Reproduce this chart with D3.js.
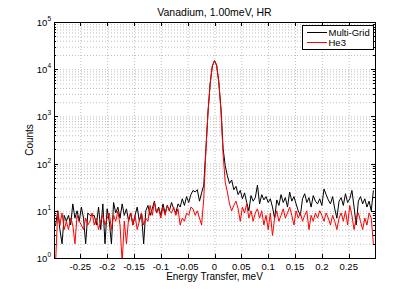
<!DOCTYPE html>
<html>
<head>
<meta charset="utf-8">
<script src="https://cdn.jsdelivr.net/npm/d3@7"></script>
<style>
  body { margin: 0; background: #fff; }
  text { font-family: "Liberation Sans", Arial, sans-serif; }
</style>
</head>
<body>
<div id="chart"></div>
<script>
// Vanadium, 1.00meV, HR

// energy bins, meV (bin centres every 0.004)
var energy = d3.range(149).map(i => +(-0.296 + 0.004 * i).toFixed(3));

var multiGrid = [
  5, 10, 4, 2, 8, 6, 8, 5, 14, 7,
  10, 6, 12, 7, 2, 9, 8, 8, 8, 5,
  12, 4, 14, 2, 11, 6, 2, 15, 9, 12,
  7, 14, 8, 11, 6, 9, 5, 8, 12, 6,
  9, 2, 10, 13, 8, 11, 16, 9, 12, 8,
  14, 9, 13, 10, 15, 11, 9, 14, 12, 18,
  13, 20, 15, 22, 27, 25, 28, 16, 24, 35,
  210, 1300, 5100, 11800, 15200, 12200, 5400, 1500, 210, 90,
  55, 38, 45, 28, 33, 22, 27, 18, 24, 15,
  10, 21, 16, 19, 35, 14, 22, 17, 20, 15,
  18, 12, 7, 17, 13, 22, 15, 19, 12, 25,
  16, 20, 14, 10, 8, 18, 23, 15, 19, 12,
  21, 16, 14, 18, 13, 29, 22, 17, 14, 20,
  11, 7, 16, 19, 13, 23, 15, 18, 27, 12,
  5, 16, 20, 14, 18, 12, 16, 10, 27
];

var he3 = [
  0.8, 10, 5, 9, 4, 6, 4, 7, 5, 2,
  8, 6, 5, 4, 7, 5, 6, 9, 5, 7,
  4, 6, 8, 5, 7, 9, 4, 8, 6, 10,
  5, 0.8, 6, 2, 7, 9, 5, 8, 4, 6,
  9, 5, 7, 6, 13, 8, 15, 9, 11, 7,
  12, 8, 13, 10, 9, 12, 8, 11, 5, 7,
  6, 9, 8, 12, 11, 8, 10, 7, 5, 18,
  190, 1250, 5000, 11600, 15000, 12000, 5200, 1350, 160, 40,
  25, 14, 10, 13, 16, 11, 6, 12, 9, 14,
  7, 10, 6, 9, 11, 7, 10, 5, 8, 4,
  9, 3, 7, 10, 6, 8, 11, 7, 9, 12,
  8, 5, 10, 7, 9, 6, 8, 10, 4, 8,
  6, 9, 7, 10, 8, 6, 9, 7, 5, 8,
  6, 4, 7, 9, 6, 10, 5, 13, 8, 4,
  7, 9, 6, 4, 7, 5, 9, 7, 2
];

var xTicks = [-0.25, -0.2, -0.15, -0.1, -0.05, 0, 0.05, 0.1, 0.15, 0.2, 0.25];
var xTickLabels = ["-0.25", "-0.2", "-0.15", "-0.1", "-0.05", "0", "0.05", "0.1", "0.15", "0.2", "0.25"];
var yExponents = [0, 1, 2, 3, 4, 5];
var seriesNames = ["Multi-Grid", "He3"];
var seriesColors = ["#000000", "#ff0000"];

var svgWidth = 415;
var svgHeight = 290;
var margin = { top: 22, right: 40, bottom: 32, left: 54 };
var width = svgWidth - margin.left - margin.right;
var height = svgHeight - margin.top - margin.bottom;

var svg = d3.select("#chart")
  .append("svg")
  .attr("width", svgWidth)
  .attr("height", svgHeight);

var chartGroup = svg.append("g")
  .attr("transform", `translate(${margin.left}, ${margin.top})`);

var x = d3.scaleLinear().domain([-0.299, 0.299]).range([0, width]);
var y = d3.scaleLog().domain([1, 1e5]).range([height, 0]);

// minor log values
var minorY = [];
yExponents.slice(0, -1).forEach(function(e) {
  for (var k = 2; k < 10; k++) minorY.push(k * Math.pow(10, e));
});
var majorY = yExponents.map(e => Math.pow(10, e));

// grid
var grid = chartGroup.append("g")
  .attr("stroke", "#b0b0b0")
  .attr("stroke-width", 0.8)
  .attr("stroke-dasharray", "1,2");

grid.selectAll(".gy")
  .data(minorY.concat(majorY))
  .enter()
  .append("line")
  .attr("x1", 0).attr("x2", width)
  .attr("y1", d => y(d) + 0.5).attr("y2", d => y(d) + 0.5);

grid.selectAll(".gx")
  .data(xTicks)
  .enter()
  .append("line")
  .attr("y1", 0).attr("y2", height)
  .attr("x1", d => x(d) + 0.5).attr("x2", d => x(d) + 0.5);

// clip for lines
svg.append("defs").append("clipPath")
  .attr("id", "clip")
  .append("rect")
  .attr("width", width)
  .attr("height", height);

var line = d3.line()
  .x((d, i) => x(energy[i]))
  .y(d => y(d));

var lines = chartGroup.append("g").attr("clip-path", "url(#clip)");

lines.append("path")
  .datum(multiGrid)
  .attr("d", line)
  .attr("fill", "none")
  .attr("stroke", seriesColors[0])
  .attr("stroke-width", 1);

lines.append("path")
  .datum(he3)
  .attr("d", line)
  .attr("fill", "none")
  .attr("stroke", seriesColors[1])
  .attr("stroke-width", 1);

// ticks (inside, MATLAB style)
var ticks = chartGroup.append("g").attr("stroke", "#000").attr("stroke-width", 1);

xTicks.forEach(function(t) {
  var px = Math.round(x(t)) + 0.5;
  ticks.append("line").attr("x1", px).attr("x2", px).attr("y1", height).attr("y2", height - 4);
  ticks.append("line").attr("x1", px).attr("x2", px).attr("y1", 0).attr("y2", 4);
});
majorY.forEach(function(v) {
  var py = Math.round(y(v)) + 0.5;
  ticks.append("line").attr("x1", 0).attr("x2", 4).attr("y1", py).attr("y2", py);
  ticks.append("line").attr("x1", width).attr("x2", width - 4).attr("y1", py).attr("y2", py);
});
minorY.forEach(function(v) {
  var py = Math.round(y(v)) + 0.5;
  ticks.append("line").attr("x1", 0).attr("x2", 2).attr("y1", py).attr("y2", py);
  ticks.append("line").attr("x1", width).attr("x2", width - 2).attr("y1", py).attr("y2", py);
});

// box
chartGroup.append("rect")
  .attr("x", 0.5).attr("y", 0.5)
  .attr("width", width).attr("height", height)
  .attr("fill", "none")
  .attr("stroke", "#000")
  .attr("stroke-width", 1);

// tick labels
chartGroup.selectAll(".xlab")
  .data(xTicks)
  .enter()
  .append("text")
  .attr("x", d => x(d))
  .attr("y", height + 12)
  .attr("text-anchor", "middle")
  .attr("font-size", "9.5px")
  .text((d, i) => xTickLabels[i]);

var ylab = chartGroup.selectAll(".ylab")
  .data(yExponents)
  .enter()
  .append("text")
  .attr("x", -3)
  .attr("y", d => y(Math.pow(10, d)) + 4)
  .attr("text-anchor", "end")
  .attr("font-size", "9.5px");
ylab.append("tspan").text("10");
ylab.append("tspan")
  .attr("dy", -5)
  .attr("font-size", "6.5px")
  .text(d => d);

// title and axis labels
svg.append("text")
  .attr("x", margin.left + width / 2)
  .attr("y", 16)
  .attr("text-anchor", "middle")
  .attr("font-size", "10.5px")
  .text("Vanadium, 1.00meV, HR");

svg.append("text")
  .attr("x", margin.left + width / 2)
  .attr("y", 280)
  .attr("text-anchor", "middle")
  .attr("font-size", "10px")
  .text("Energy Transfer, meV");

svg.append("text")
  .attr("transform", `translate(33, ${margin.top + height / 2}) rotate(-90)`)
  .attr("text-anchor", "middle")
  .attr("font-size", "10px")
  .text("Counts");

// legend
var legend = svg.append("g").attr("transform", "translate(302, 25)");
legend.append("rect")
  .attr("x", 0.5).attr("y", 0.5)
  .attr("width", 71).attr("height", 24)
  .attr("fill", "#fff")
  .attr("stroke", "#000")
  .attr("stroke-width", 1);

seriesNames.forEach(function(name, i) {
  var ly = 7.5 + i * 10;
  legend.append("line")
    .attr("x1", 5).attr("x2", 25)
    .attr("y1", ly).attr("y2", ly)
    .attr("stroke", seriesColors[i])
    .attr("stroke-width", 1);
  legend.append("text")
    .attr("x", 26.5)
    .attr("y", ly + 3.5)
    .attr("font-size", "9.5px")
    .text(name);
});
</script>
</body>
</html>
